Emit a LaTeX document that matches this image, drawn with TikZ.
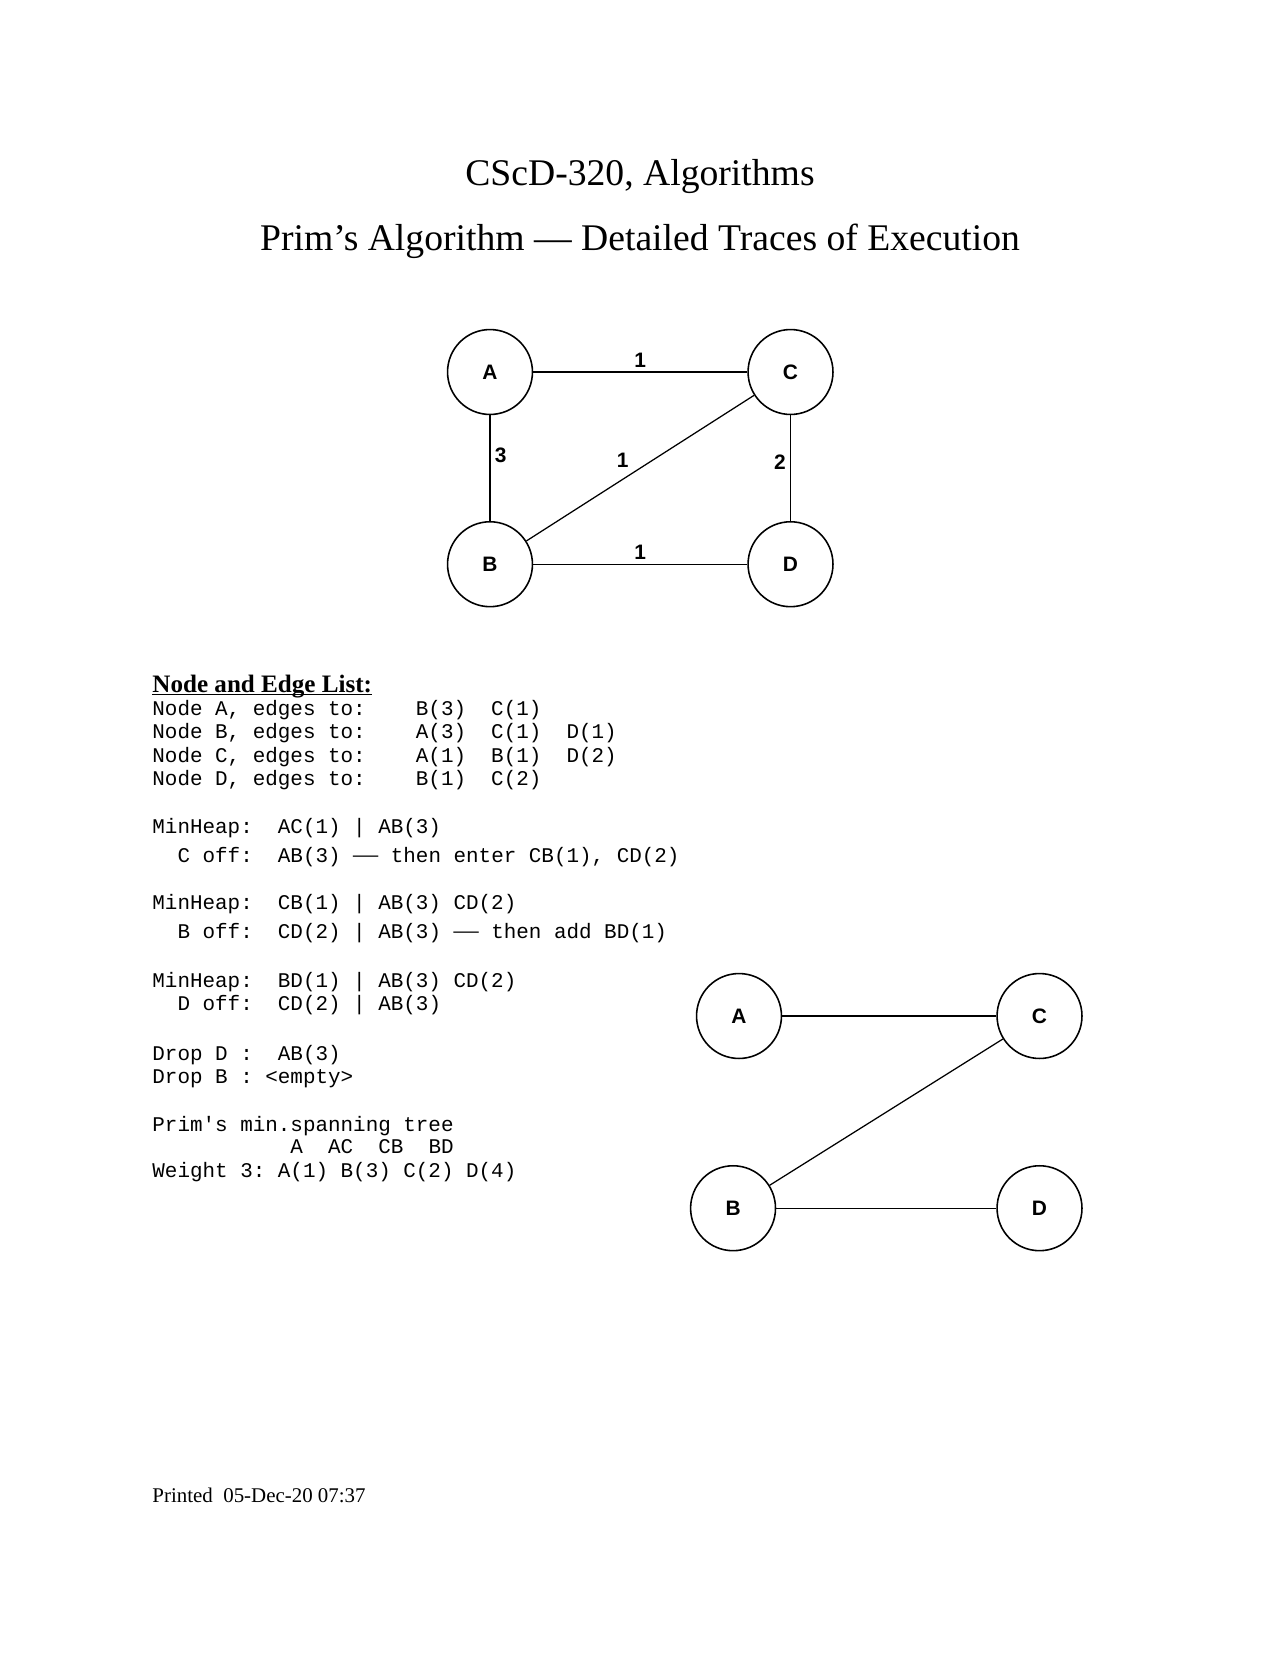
\documentclass[tikz,border=0pt]{standalone}
\usepackage{fontspec}
\setmainfont{Liberation Serif}
\setsansfont{Liberation Sans}
\setmonofont{Liberation Mono}
\newfontfamily\dashfont{Liberation Serif}
\usetikzlibrary{positioning}
\newcommand{\mdash}{{\dashfont\fontsize{12}{12}\selectfont —}}
\frenchspacing

\begin{document}
\begin{tikzpicture}[x=0.478125pt,y=-0.478125pt,node distance=3.35cm]

  \tikzstyle{vertex}=[circle,draw,line width=0.75pt,minimum size=40.6pt,inner sep=0pt,font=\sffamily\bfseries\fontsize{10}{12}\selectfont]
  \tikzstyle{peso}=[inner sep=2pt,font=\sffamily\bfseries\fontsize{10}{12}\selectfont]
  \tikzstyle{linha}=[line width=0.6pt]
  \tikzstyle{mono}=[anchor=base west,inner sep=0pt,font=\ttfamily\fontsize{10}{11.3}\selectfont]
  \tikzstyle{titulo}=[anchor=base,inner sep=0pt,font=\fontsize{18}{22}\selectfont]

  \useasboundingbox (0,0) rectangle (1280,1656);

  % titles
  \node [titulo] (h1) at (640,185) {CScD-320, Algorithms};
  \node [titulo] (h2) at (640,250) {Prim’s Algorithm — Detailed Traces of Execution};

  % the graph
  \begin{scope}

    \node [vertex] (a1) at (490,372) {A};

    \node [vertex] (c1) [right of=a1,xshift=1.7cm] {C}
    edge [linha] node [peso,above] {1} (a1);

    \node [vertex] (b1) [below of=a1,yshift=0.12cm] {B}
    edge [linha] node [peso,right,pos=0.62] {3} (a1)
    edge [linha] node [peso,above left,pos=0.47] {1} (c1);

    \node [vertex] (d1) [below of=c1,yshift=0.12cm] {D}
    edge [linha] node [peso,left,pos=0.56] {2} (c1)
    edge [linha] node [peso,above] {1} (b1);

  \end{scope}

  % the spanning tree
  \begin{scope}

    \node [vertex] (a2) at (739,1016) {A};

    \node [vertex] (c2) [right of=a2,xshift=1.7cm] {C}
    edge [linha] (a2);

    \node [vertex] (b2) [below of=a2,xshift=-0.1cm,yshift=0.12cm] {B}
    edge [linha] (c2);

    \node [vertex] (d2) [below of=c2,yshift=0.12cm] {D}
    edge [linha] (b2);

  \end{scope}

  % edge list
  \node [anchor=base west,inner sep=0pt,font=\bfseries\fontsize{12}{14}\selectfont] (lst) at (152,692) {Node and Edge List:};
  \draw [line width=0.8pt] ([yshift=-1.2pt]lst.base west) -- ([yshift=-1.2pt]lst.base east);

  \node [mono] (e1) at (152,715) {Node A, edges to:~~~~B(3)~~C(1)};
  \node [mono] (e2) at (152,738) {Node B, edges to:~~~~A(3)~~C(1)~~D(1)};
  \node [mono] (e3) at (152,762) {Node C, edges to:~~~~A(1)~~B(1)~~D(2)};
  \node [mono] (e4) at (152,785) {Node D, edges to:~~~~B(1)~~C(2)};

  % heap trace
  \node [mono] (m1) at (152,833) {MinHeap:~~AC(1) | AB(3)};
  \node [mono] (m2) at (152,862) {~~C off:~~AB(3) \mdash{} then enter CB(1), CD(2)};
  \node [mono] (m3) at (152,909) {MinHeap:~~CB(1) | AB(3) CD(2)};
  \node [mono] (m4) at (152,938) {~~B off:~~CD(2) | AB(3) \mdash{} then add BD(1)};
  \node [mono] (m5) at (152,987) {MinHeap:~~BD(1) | AB(3) CD(2)};
  \node [mono] (m6) at (152,1010) {~~D off:~~CD(2) | AB(3)};
  \node [mono] (m7) at (152,1060) {Drop D :~~AB(3)};
  \node [mono] (m8) at (152,1083) {Drop B : <empty>};
  \node [mono] (m9) at (152,1131) {Prim's min.spanning tree};
  \node [mono] (m10) at (152,1153) {~~~~~~~~~~~A~~AC~~CB~~BD};
  \node [mono] (m11) at (152,1177) {Weight 3: A(1) B(3) C(2) D(4)};

  \node [anchor=base west,inner sep=0pt,font=\fontsize{10}{12}\selectfont] (rod) at (152,1502) {Printed~~05-Dec-20 07:37};

\end{tikzpicture}
\end{document}
